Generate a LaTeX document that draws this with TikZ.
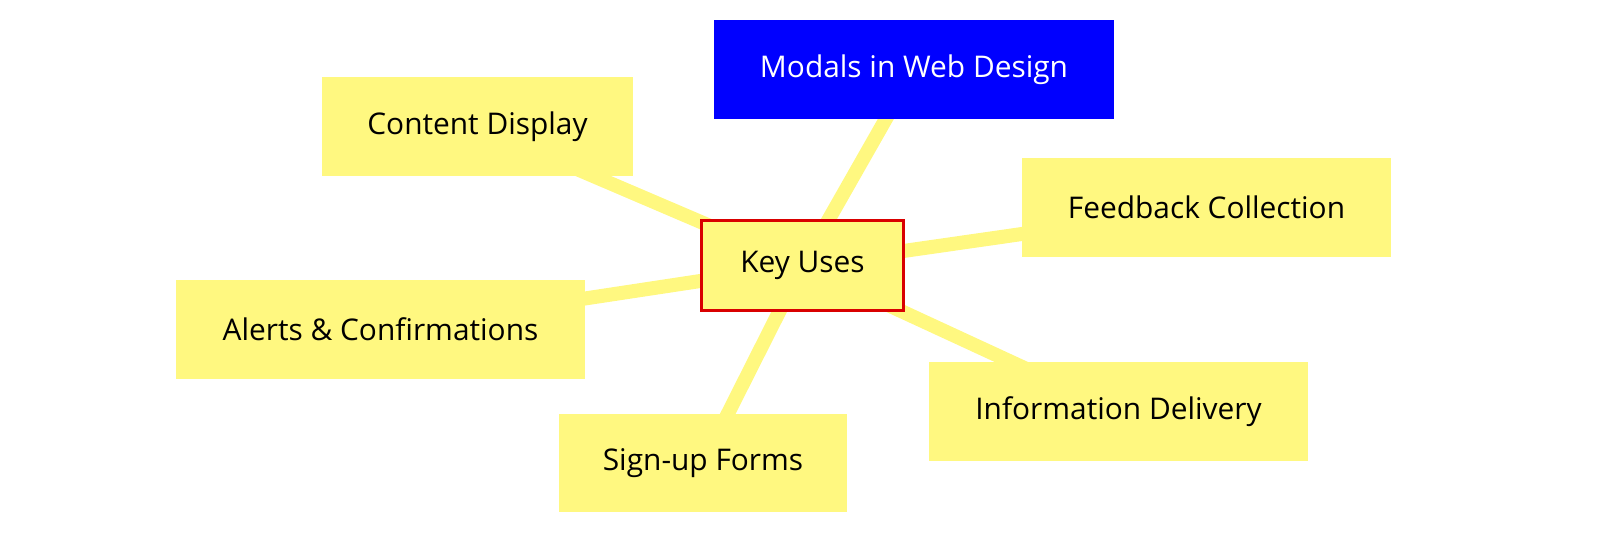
\documentclass[tikz,border=0pt]{standalone}
\usepackage{fontspec}
\setmainfont{Open Sans}
\usetikzlibrary{backgrounds}

\begin{document}
\begin{tikzpicture}[x=0.02cm,y=-0.02cm]
\tikzset{leaf/.style = {shape=rectangle,fill=yellow!50,minimum height=1.98cm,inner sep=0pt,font=\fontsize{17}{20}\selectfont}}
\tikzset{link/.style = {draw=yellow!50,line width=0.28cm}}

\node[leaf,fill=blue,text=white,minimum width=8cm] (title) at (914,69.5) {Modals in Web Design};
\node[leaf,draw=red!85!black,line width=0.06cm,minimum width=4.05cm,minimum height=1.8cm] (key) at (802.5,265.5) {Key Uses};

\foreach \pos/\name/\boxw/\txt in {{(477.5,126.5)/content/6.22/Content Display}, {(1206.5,207.5)/feedback/7.38/Feedback Collection}, {(380.5,329.5)/alerts/8.18/Alerts \& Confirmations}, {(1118.5,411.5)/info/7.58/Information Delivery}, {(703,463)/signup/5.76/Sign-up Forms}}
\node[leaf,minimum width=\boxw cm] (\name) at \pos {\txt};

\begin{scope}[on background layer]
\foreach \to in {title, content, feedback, alerts, info, signup}
\draw [link] (key.center) to (\to.center);
\end{scope}

\pgfresetboundingbox
\useasboundingbox (0,0) rectangle (1600,544);
\end{tikzpicture}
\end{document}
